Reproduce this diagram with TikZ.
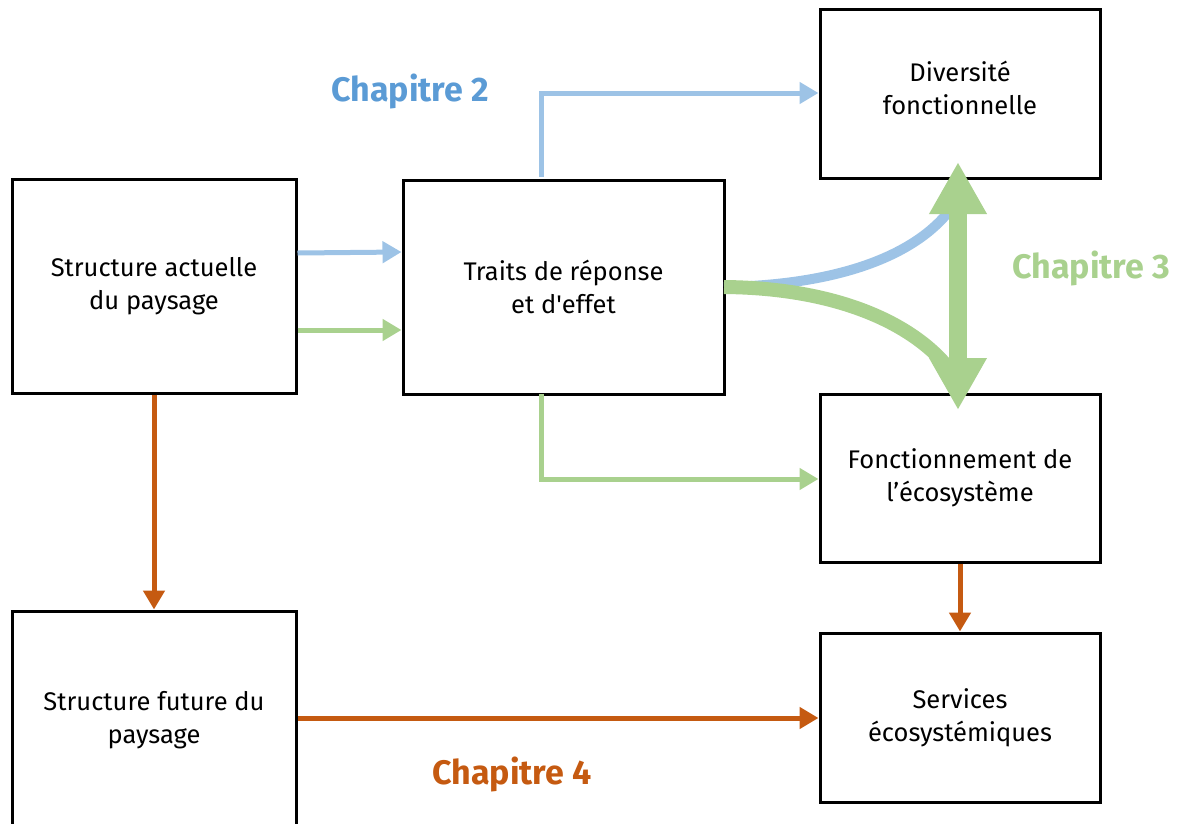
\documentclass[tikz,border=0pt]{standalone}
\usepackage{fontspec}
\setmainfont{Fira Sans}
\usetikzlibrary{arrows.meta}
\definecolor{cblue}{HTML}{9DC3E6}
\definecolor{cbluetxt}{HTML}{5B9BD5}
\definecolor{cgreen}{HTML}{A9D18E}
\definecolor{corange}{HTML}{C55A11}
\tikzset{
  box/.style={draw=black, line width=3pt, fill=white, inner sep=0pt, align=center,
    font=\fontsize{25.5}{33}\selectfont},
  conn/.style={line width=5pt, -{Triangle[length=19pt,width=21pt]}},
  chap/.style={font=\fontsize{34}{40}\selectfont\bfseries},
}
\begin{document}
\begin{tikzpicture}[x=1pt,y=-1pt]
\useasboundingbox (0,0) rectangle (1183,823);
\clip (0,0) rectangle (1183,823);
\node[box, minimum width=284pt, minimum height=214pt] (sa) at (154,286) {Structure actuelle\\du paysage};
\node[box, minimum width=321pt, minimum height=214pt] (tr) at (563.5,287) {Traits de réponse\\et d\textquotesingle effet};
\node[box, minimum width=280pt, minimum height=169pt, text depth=12pt] (df) at (960,93.5) {Diversité\\fonctionnelle};
\node[box, minimum width=280pt, minimum height=168pt] (fe) at (960,478) {Fonctionnement de\\l’écosystème};
\node[box, minimum width=284pt, minimum height=218pt] (sf) at (154,720) {Structure future du\\paysage};
\node[box, minimum width=280pt, minimum height=169pt] (se) at (960,717.5) {Services\\écosystémiques};

\node[chap, text=cbluetxt] (c2) at (410,91) {Chapitre 2};
\node[chap, text=cgreen] (c3) at (1091,268) {Chapitre 3};
\node[chap, text=corange] (c4) at (512,774) {Chapitre 4};

% blue arrows
\draw[conn, cblue] (sa.east |- 0,253) -- (tr.west |- 0,252);
\draw[conn, cblue] (541,177) |- (df.west |- 0,93);
% green arrows
\draw[conn, cgreen] (sa.east |- 0,330) -- (tr.west |- 0,330);
\draw[conn, cgreen] (541,394) |- (fe.west |- 0,479);
% orange arrows
\draw[conn, corange] (sa.south -| 154,0) -- (sf.north -| 154,0);
\draw[conn, corange] (sf.east |- 0,718) -- (se.west |- 0,718);
\draw[conn, corange] (fe.south -| 960,0) -- (se.north -| 960,0);

% curved arrows
\coordinate (cs) at (724,287);
\draw[cblue, line width=10pt] (cs) .. controls (840,285) and (915,255) .. (950,210);
\draw[cgreen, line width=14pt] (cs) .. controls (840,288) and (915,325) .. (950,370);
% double arrow
\coordinate (dtop) at (958,162);
\coordinate (dbot) at (958,410);
\draw[cgreen, line width=18pt, {Triangle[length=52pt,width=54pt]}-{Triangle[length=52pt,width=54pt]}] (dtop) -- (dbot);
\end{tikzpicture}
\end{document}
